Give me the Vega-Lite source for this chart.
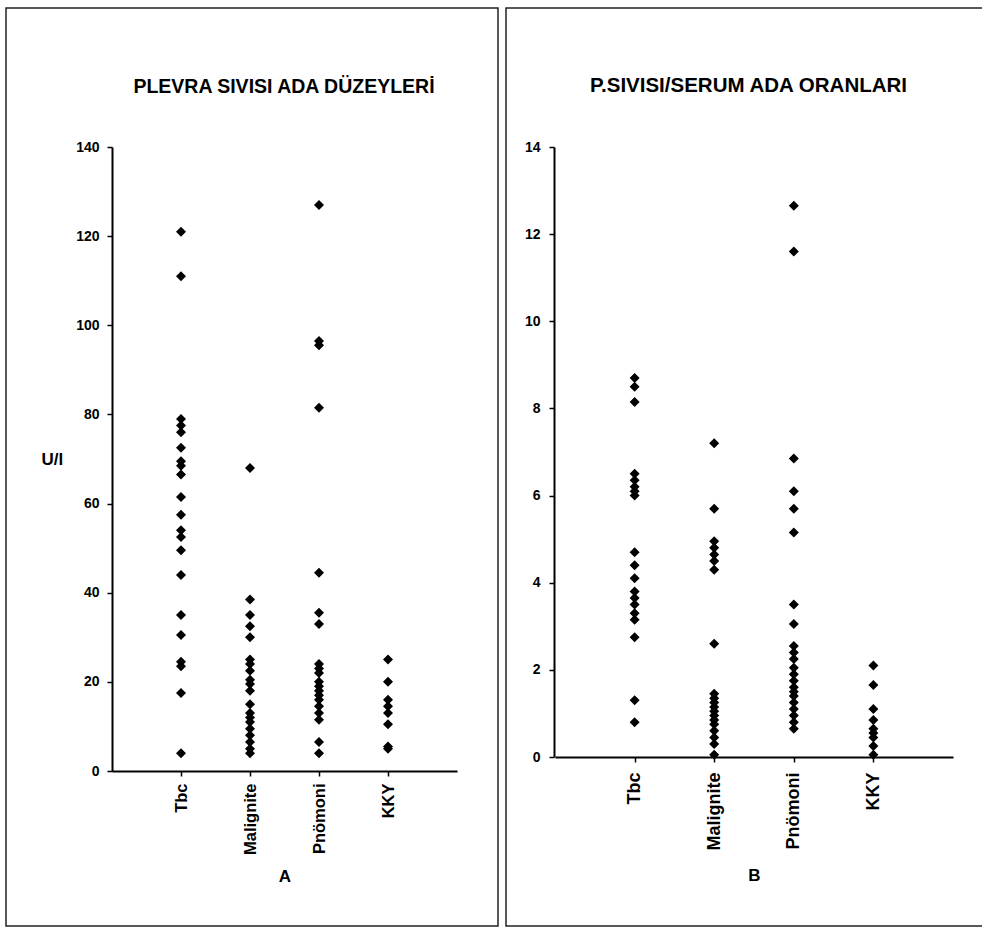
{
  "$schema": "https://vega.github.io/schema/vega-lite/v6.json",
  "background": "white",
  "padding": {"left": 5, "top": 7, "right": 2, "bottom": 5},
  "spacing": 6,
  "config": {
    "view": {"stroke": "#222222", "strokeWidth": 1.5},
    "axis": {
      "domainColor": "black", "domainWidth": 2, "tickColor": "black", "tickWidth": 1.5, "tickSize": 5,
      "grid": false, "labelFont": "Liberation Sans", "labelFontWeight": "bold", "labelColor": "black",
      "titleFont": "Liberation Sans", "titleFontWeight": "bold", "titleColor": "black",
      "labelOverlap": false, "labelFlush": false
    },
    "title": {"font": "Liberation Sans", "fontWeight": "bold", "fontSize": 19.5, "color": "black"}
  },
  "datasets": {
    "ada": [
      {"group": "Tbc", "value": 121}, {"group": "Tbc", "value": 111}, {"group": "Tbc", "value": 79}, {"group": "Tbc", "value": 77.5},
      {"group": "Tbc", "value": 76}, {"group": "Tbc", "value": 72.5}, {"group": "Tbc", "value": 69.5}, {"group": "Tbc", "value": 68.5},
      {"group": "Tbc", "value": 66.5}, {"group": "Tbc", "value": 61.5}, {"group": "Tbc", "value": 57.5}, {"group": "Tbc", "value": 54},
      {"group": "Tbc", "value": 52.5}, {"group": "Tbc", "value": 49.5}, {"group": "Tbc", "value": 44}, {"group": "Tbc", "value": 35},
      {"group": "Tbc", "value": 30.5}, {"group": "Tbc", "value": 24.5}, {"group": "Tbc", "value": 23.5}, {"group": "Tbc", "value": 17.5},
      {"group": "Tbc", "value": 4},
      {"group": "Malignite", "value": 68}, {"group": "Malignite", "value": 38.5}, {"group": "Malignite", "value": 35}, {"group": "Malignite", "value": 32.5},
      {"group": "Malignite", "value": 30}, {"group": "Malignite", "value": 25}, {"group": "Malignite", "value": 24}, {"group": "Malignite", "value": 22.5},
      {"group": "Malignite", "value": 20.5}, {"group": "Malignite", "value": 19.5}, {"group": "Malignite", "value": 18}, {"group": "Malignite", "value": 15},
      {"group": "Malignite", "value": 13}, {"group": "Malignite", "value": 12}, {"group": "Malignite", "value": 11}, {"group": "Malignite", "value": 9.5},
      {"group": "Malignite", "value": 8}, {"group": "Malignite", "value": 6.5}, {"group": "Malignite", "value": 5}, {"group": "Malignite", "value": 4},
      {"group": "Pnömoni", "value": 127}, {"group": "Pnömoni", "value": 96.5}, {"group": "Pnömoni", "value": 95.5}, {"group": "Pnömoni", "value": 81.5},
      {"group": "Pnömoni", "value": 44.5}, {"group": "Pnömoni", "value": 35.5}, {"group": "Pnömoni", "value": 33}, {"group": "Pnömoni", "value": 24},
      {"group": "Pnömoni", "value": 23}, {"group": "Pnömoni", "value": 22}, {"group": "Pnömoni", "value": 20}, {"group": "Pnömoni", "value": 19},
      {"group": "Pnömoni", "value": 18}, {"group": "Pnömoni", "value": 17}, {"group": "Pnömoni", "value": 16}, {"group": "Pnömoni", "value": 14.5},
      {"group": "Pnömoni", "value": 13}, {"group": "Pnömoni", "value": 11.5}, {"group": "Pnömoni", "value": 6.5}, {"group": "Pnömoni", "value": 4},
      {"group": "KKY", "value": 25}, {"group": "KKY", "value": 20}, {"group": "KKY", "value": 16}, {"group": "KKY", "value": 14.5},
      {"group": "KKY", "value": 13}, {"group": "KKY", "value": 10.5}, {"group": "KKY", "value": 5.5}, {"group": "KKY", "value": 5}
    ],
    "oran": [
      {"group": "Tbc", "value": 8.7}, {"group": "Tbc", "value": 8.5}, {"group": "Tbc", "value": 8.15}, {"group": "Tbc", "value": 6.5},
      {"group": "Tbc", "value": 6.35}, {"group": "Tbc", "value": 6.2}, {"group": "Tbc", "value": 6.1}, {"group": "Tbc", "value": 6.0},
      {"group": "Tbc", "value": 4.7}, {"group": "Tbc", "value": 4.4}, {"group": "Tbc", "value": 4.1}, {"group": "Tbc", "value": 3.8},
      {"group": "Tbc", "value": 3.65}, {"group": "Tbc", "value": 3.5}, {"group": "Tbc", "value": 3.3}, {"group": "Tbc", "value": 3.15},
      {"group": "Tbc", "value": 2.75}, {"group": "Tbc", "value": 1.3}, {"group": "Tbc", "value": 0.8},
      {"group": "Malignite", "value": 7.2}, {"group": "Malignite", "value": 5.7}, {"group": "Malignite", "value": 4.95}, {"group": "Malignite", "value": 4.8},
      {"group": "Malignite", "value": 4.65}, {"group": "Malignite", "value": 4.5}, {"group": "Malignite", "value": 4.3}, {"group": "Malignite", "value": 2.6},
      {"group": "Malignite", "value": 1.45}, {"group": "Malignite", "value": 1.35}, {"group": "Malignite", "value": 1.25}, {"group": "Malignite", "value": 1.15},
      {"group": "Malignite", "value": 1.05}, {"group": "Malignite", "value": 0.95}, {"group": "Malignite", "value": 0.85}, {"group": "Malignite", "value": 0.75},
      {"group": "Malignite", "value": 0.6}, {"group": "Malignite", "value": 0.45}, {"group": "Malignite", "value": 0.3}, {"group": "Malignite", "value": 0.05},
      {"group": "Pnömoni", "value": 12.65}, {"group": "Pnömoni", "value": 11.6}, {"group": "Pnömoni", "value": 6.85}, {"group": "Pnömoni", "value": 6.1},
      {"group": "Pnömoni", "value": 5.7}, {"group": "Pnömoni", "value": 5.15}, {"group": "Pnömoni", "value": 3.5}, {"group": "Pnömoni", "value": 3.05},
      {"group": "Pnömoni", "value": 2.55}, {"group": "Pnömoni", "value": 2.4}, {"group": "Pnömoni", "value": 2.25}, {"group": "Pnömoni", "value": 2.05},
      {"group": "Pnömoni", "value": 1.9}, {"group": "Pnömoni", "value": 1.75}, {"group": "Pnömoni", "value": 1.6}, {"group": "Pnömoni", "value": 1.5},
      {"group": "Pnömoni", "value": 1.4}, {"group": "Pnömoni", "value": 1.25}, {"group": "Pnömoni", "value": 1.1}, {"group": "Pnömoni", "value": 0.95},
      {"group": "Pnömoni", "value": 0.8}, {"group": "Pnömoni", "value": 0.65},
      {"group": "KKY", "value": 2.1}, {"group": "KKY", "value": 1.65}, {"group": "KKY", "value": 1.1}, {"group": "KKY", "value": 0.85},
      {"group": "KKY", "value": 0.65}, {"group": "KKY", "value": 0.55}, {"group": "KKY", "value": 0.45}, {"group": "KKY", "value": 0.25},
      {"group": "KKY", "value": 0.05}
    ]
  },
  "hconcat": [
    {
      "width": 492,
      "height": 918,
      "data": {"name": "ada"},
      "title": {"text": "PLEVRA SIVISI ADA DÜZEYLERİ", "offset": -104, "dx": 32, "baseline": "alphabetic", "anchor": "middle", "fontSize": 19.5},
      "mark": {"type": "point", "shape": "diamond", "filled": true, "color": "black", "size": 100, "opacity": 1},
      "encoding": {
        "x": {
          "field": "group", "type": "nominal", "sort": ["Tbc", "Malignite", "Pnömoni", "KKY"],
          "scale": {"type": "point", "range": [106, 451], "padding": 1},
          "axis": {"title": "A", "offset": -155, "labelAngle": 270, "labelAlign": "right", "labelBaseline": "middle", "labelFontSize": 16.5, "labelPadding": 7, "titleFontSize": 17, "titlePadding": 14}
        },
        "y": {
          "field": "value", "type": "quantitative",
          "scale": {"domain": [0, 140], "range": [763, 139], "nice": false},
          "axis": {"title": "U/l", "offset": -106, "values": [0, 20, 40, 60, 80, 100, 120, 140], "labelFontSize": 14, "labelPadding": 8, "titleAngle": 0, "titleAlign": "right", "titleBaseline": "middle", "titleFontSize": 17, "titlePadding": 13}
        }
      }
    },
    {
      "width": 477,
      "height": 918,
      "data": {"name": "oran"},
      "title": {"text": "P.SIVISI/SERUM ADA ORANLARI", "offset": -104, "dx": 4, "baseline": "alphabetic", "anchor": "middle", "fontSize": 20.5},
      "mark": {"type": "point", "shape": "diamond", "filled": true, "color": "black", "size": 100, "opacity": 1},
      "encoding": {
        "x": {
          "field": "group", "type": "nominal", "sort": ["Tbc", "Malignite", "Pnömoni", "KKY"],
          "scale": {"type": "point", "range": [49, 447], "padding": 1},
          "axis": {"title": "B", "offset": -169, "labelAngle": 270, "labelAlign": "right", "labelBaseline": "middle", "labelFontSize": 18, "labelPadding": 10, "titleFontSize": 17, "titlePadding": 17}
        },
        "y": {
          "field": "value", "type": "quantitative",
          "scale": {"domain": [0, 14], "range": [749, 139], "nice": false},
          "axis": {"title": null, "offset": -48, "values": [0, 2, 4, 6, 8, 10, 12, 14], "labelFontSize": 14, "labelPadding": 9}
        }
      }
    }
  ]
}
